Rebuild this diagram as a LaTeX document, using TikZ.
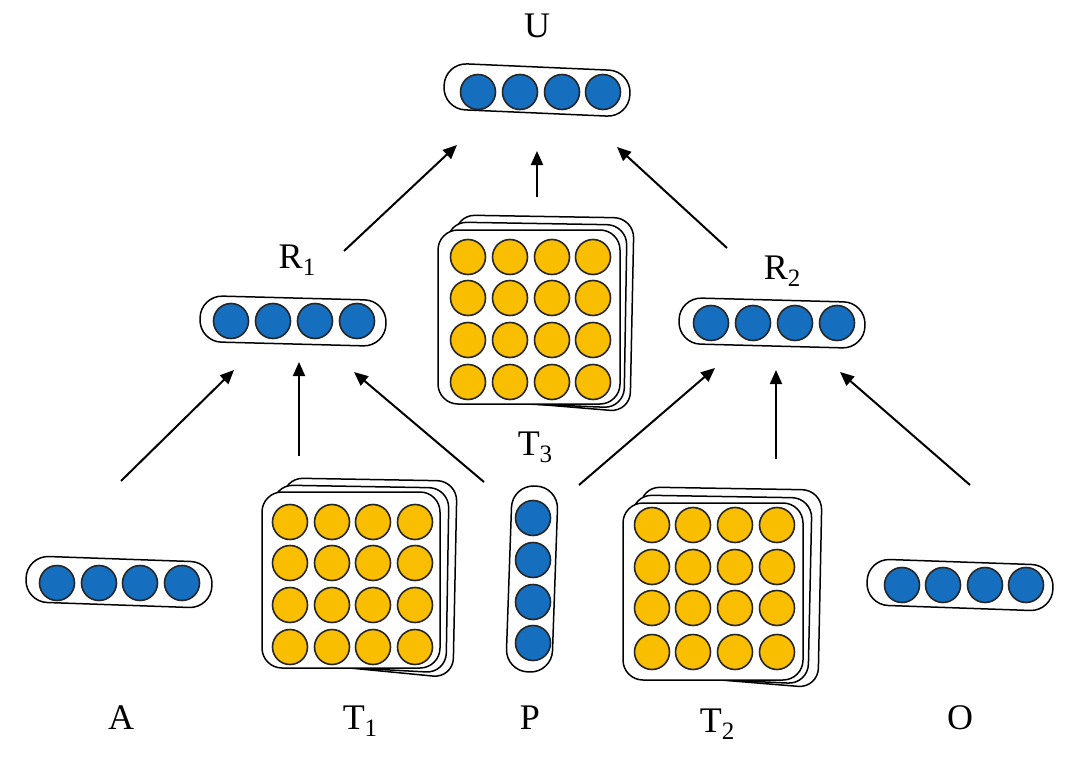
\documentclass[tikz,border=0pt]{standalone}
\usepackage{fontspec}
\setmainfont{Liberation Serif}
\usetikzlibrary{arrows.meta}
\definecolor{ballblue}{RGB}{22,110,190}
\definecolor{ballyellow}{RGB}{250,190,0}
\begin{document}
\begin{tikzpicture}[x=1pt,y=-1pt,
  bball/.style={circle,draw=black!85,fill=ballblue,line width=1.6pt,minimum size=35pt,inner sep=0pt},
  yball/.style={circle,draw=black!85,fill=ballyellow,line width=1.6pt,minimum size=35pt,inner sep=0pt},
  capsule/.style={draw,line width=1.5pt,rounded corners=22pt,minimum width=186pt,minimum height=46pt,inner sep=0pt},
  sheet/.style={draw,line width=1.5pt,fill=white,rounded corners=20pt,inner sep=0pt},
  lab/.style={font=\fontsize{36}{36}\selectfont,anchor=base,inner sep=0pt},
  arr/.style={-{Triangle[length=14pt,width=12pt]},line width=2pt}
]
\useasboundingbox (0,0) rectangle (1080,760);
\newcommand{\sbs}[1]{\raisebox{-7pt}{\fontsize{25}{25}\selectfont #1}}

% ---- capsules (vectors)
\node[capsule,rotate=-2.5] (U) at (537,90) {};
\foreach \x [count=\i] in {478,520,562,603} \node[bball] (U\i) at (\x,92) {};
\node[capsule,rotate=-1.5] (R1) at (293,321) {};
\foreach \x [count=\i] in {231,273,315,357} \node[bball] (R1\i) at (\x,321) {};
\node[capsule,rotate=-1.5] (R2) at (772,323) {};
\foreach \x [count=\i] in {711,753,795,837} \node[bball] (R2\i) at (\x,323) {};
\node[capsule,rotate=-2] (A) at (119,582) {};
\foreach \x [count=\i] in {57,99,140,182} \node[bball] (A\i) at (\x,583) {};
\node[capsule,rotate=-2] (O) at (960,585) {};
\foreach \x [count=\i] in {902,943,985,1026} \node[bball] (O\i) at (\x,585) {};
\node[capsule,minimum width=46pt,minimum height=186pt,rotate=-2] (P) at (532,579) {};
\foreach \y [count=\i] in {518,560,602,643} \node[bball] (P\i) at (533,\y) {};

% ---- stacked matrices
\draw[sheet] (455,215) -- (634,218) -- (630,412) -- (462,398) -- cycle;
\draw[sheet] (447,222) -- (627,225) -- (624,408) -- (452,401) -- cycle;
\node[sheet,minimum width=182pt,minimum height=174pt] (T3) at (529,317) {};
\foreach \y [count=\j] in {257,298,340,382}
  \foreach \x [count=\i] in {468,510,552,593}
    \node[yball] (T3-\j-\i) at (\x,\y) {};

\draw[sheet] (283,478) -- (457,481) -- (453,678) -- (288,662) -- cycle;
\draw[sheet] (273,485) -- (449,488) -- (446,673) -- (278,664) -- cycle;
\node[sheet,minimum width=178pt,minimum height=176pt] (T1) at (351,580) {};
\foreach \y [count=\j] in {522,563,605,647}
  \foreach \x [count=\i] in {290,332,373,415}
    \node[yball] (T1-\j-\i) at (\x,\y) {};

\draw[sheet] (640,487) -- (822,490) -- (818,688) -- (648,674) -- cycle;
\draw[sheet] (632,495) -- (812,498) -- (808,684) -- (638,676) -- cycle;
\node[sheet,minimum width=180pt,minimum height=177pt] (T2) at (713,591.5) {};
\foreach \y [count=\j] in {525,567,608,652}
  \foreach \x [count=\i] in {652,693,735,777}
    \node[yball] (T2-\j-\i) at (\x,\y) {};

% ---- labels
\node[lab] (lU) at (537,38) {U};
\node[lab] (lR1) at (297,268) {R\sbs{1}};
\node[lab] (lR2) at (782,279) {R\sbs{2}};
\node[lab] (lT3) at (535,455) {T\sbs{3}};
\node[lab] (lA) at (121,729) {A};
\node[lab] (lT1) at (360,729) {T\sbs{1}};
\node[lab] (lP) at (530,729) {P};
\node[lab] (lT2) at (717,732) {T\sbs{2}};
\node[lab] (lO) at (960,729) {O};

% ---- connectors
\coordinate (r1s) at (344,251); \coordinate (r1e) at (457,145);
\coordinate (t3s) at (537,197); \coordinate (t3e) at (537,151);
\coordinate (r2s) at (727,248); \coordinate (r2e) at (617,147);
\coordinate (as)  at (121,481); \coordinate (ae)  at (234,370);
\coordinate (t1s) at (299,456); \coordinate (t1e) at (299,362);
\coordinate (p1s) at (484,482); \coordinate (p1e) at (354,372);
\coordinate (p2s) at (579,485); \coordinate (p2e) at (715,368);
\coordinate (t2s) at (776,459); \coordinate (t2e) at (776,370);
\coordinate (os)  at (970,485); \coordinate (oe)  at (840,372);
\foreach \s/\e in {r1s/r1e,t3s/t3e,r2s/r2e,as/ae,t1s/t1e,p1s/p1e,p2s/p2e,t2s/t2e,os/oe}
  \draw[arr] (\s) -- (\e);
\end{tikzpicture}
\end{document}
